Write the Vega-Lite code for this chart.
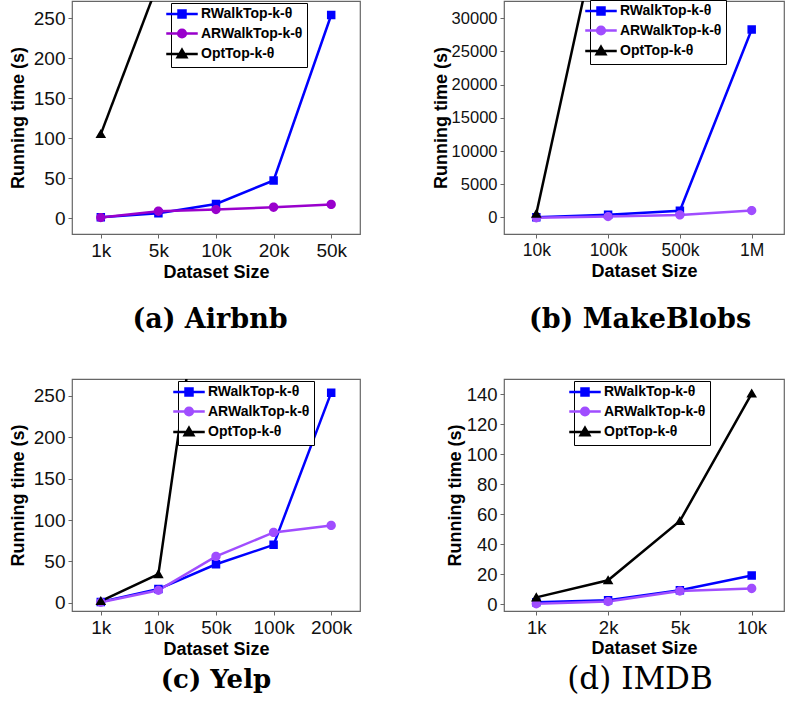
{
  "$schema": "https://vega.github.io/schema/vega-lite/v6.json",
  "background": "white",
  "padding": {"left": 8, "top": -2, "right": 0, "bottom": 0},
  "bounds": "flush",
  "columns": 2,
  "spacing": {"row": 145, "column": 144},
  "config": {
    "view": {"stroke": "#666", "strokeWidth": 1.2},
    "axis": {
      "labelFont": "Liberation Sans", "labelFontSize": 19, "labelColor": "#111",
      "titleFont": "Liberation Sans", "titleFontSize": 18, "titleFontWeight": "bold", "titleColor": "#000",
      "tickSize": 4, "tickColor": "#666", "tickWidth": 1, "domain": false, "grid": false, "labelPadding": 3
    },
    "legend": {
      "orient": "none", "title": null, "strokeColor": "#000", "fillColor": "white", "padding": 4,
      "labelFont": "Liberation Sans", "labelFontSize": 14, "labelFontWeight": "bold", "labelColor": "#000",
      "symbolSize": 49, "symbolStrokeWidth": 2.5, "labelOffset": 12, "rowPadding": 1.5
    },
    "title": {"font": "DejaVu Serif", "fontSize": 27, "fontWeight": "bold", "color": "#000", "orient": "bottom", "anchor": "middle", "offset": 26}
  },
  "resolve": {"scale": {"color": "independent", "shape": "independent"}, "legend": {"color": "independent", "shape": "independent"}},
  "concat": [
        {
          "width": 288, "height": 233,
          "title": {"text": "(a) Airbnb", "dx": -6},
          "data": {"values": [
            {"size": "1k", "method": "RWalkTop-k-θ", "time": 1},
            {"size": "5k", "method": "RWalkTop-k-θ", "time": 6},
            {"size": "10k", "method": "RWalkTop-k-θ", "time": 17.5},
            {"size": "20k", "method": "RWalkTop-k-θ", "time": 47},
            {"size": "50k", "method": "RWalkTop-k-θ", "time": 254},
            {"size": "1k", "method": "ARWalkTop-k-θ", "time": 0.5},
            {"size": "5k", "method": "ARWalkTop-k-θ", "time": 8.5},
            {"size": "10k", "method": "ARWalkTop-k-θ", "time": 10.5},
            {"size": "20k", "method": "ARWalkTop-k-θ", "time": 13.5},
            {"size": "50k", "method": "ARWalkTop-k-θ", "time": 17},
            {"size": "1k", "method": "OptTop-k-θ", "time": 105},
            {"size": "5k", "method": "OptTop-k-θ", "time": 295}
          ]},
          "encoding": {
            "x": {"field": "size", "type": "ordinal", "sort": ["1k", "5k", "10k", "20k", "50k"], "scale": {"type": "point", "padding": 0.5}, "axis": {"labelAngle": 0, "title": "Dataset Size", "titlePadding": 3}},
            "y": {"field": "time", "type": "quantitative", "scale": {"domain": [-20, 271.5], "nice": false, "zero": false}, "axis": {"values": [0, 50, 100, 150, 200, 250], "format": "d", "title": "Running time (s)", "titlePadding": 6}},
            "color": {"field": "method", "type": "nominal", "scale": {"domain": ["RWalkTop-k-θ", "ARWalkTop-k-θ", "OptTop-k-θ"], "range": ["#0000ff", "#9900cc", "#000000"]},
              "legend": {"legendX": 99, "legendY": 2, "encode": {"symbols": {"update": {"stroke": {"signal": "datum.value === 'RWalkTop-k-θ' ? '#0000ff' : datum.value === 'ARWalkTop-k-θ' ? '#9900cc' : '#000000'"}, "strokeWidth": {"value": 2.5}, "opacity": {"value": 1}}}}}}
          },
          "layer": [
            {"mark": {"type": "line", "strokeWidth": 2.5, "clip": true}},
            {"mark": {"type": "point", "filled": true, "size": 72, "opacity": 1, "strokeWidth": 0, "clip": true},
             "encoding": {"shape": {"field": "method", "type": "nominal", "scale": {"domain": ["RWalkTop-k-θ", "ARWalkTop-k-θ", "OptTop-k-θ"], "range": ["M-4.5,0H4.5M-1,-1H1V1H-1Z", "M-4.5,0H4.5M1.1,0A1.1,1.1,0,1,1,-1.1,0A1.1,1.1,0,1,1,1.1,0Z", "M-4.5,0H4.5M0,-1.2L1.25,0.95L-1.25,0.95Z"]},
               "legend": {"legendX": 99, "legendY": 2, "encode": {"symbols": {"update": {"stroke": {"signal": "datum.value === 'RWalkTop-k-θ' ? '#0000ff' : datum.value === 'ARWalkTop-k-θ' ? '#9900cc' : '#000000'"}, "strokeWidth": {"value": 2.5}, "opacity": {"value": 1}}}}}}}}
          ]
        },
        {
          "width": 280, "height": 233,
          "title": {"text": "(b) MakeBlobs", "dx": -4},
          "data": {"values": [
            {"size": "10k", "method": "RWalkTop-k-θ", "time": 10},
            {"size": "100k", "method": "RWalkTop-k-θ", "time": 400},
            {"size": "500k", "method": "RWalkTop-k-θ", "time": 1000},
            {"size": "1M", "method": "RWalkTop-k-θ", "time": 28300},
            {"size": "10k", "method": "ARWalkTop-k-θ", "time": -50},
            {"size": "100k", "method": "ARWalkTop-k-θ", "time": 120},
            {"size": "500k", "method": "ARWalkTop-k-θ", "time": 380},
            {"size": "1M", "method": "ARWalkTop-k-θ", "time": 1030},
            {"size": "10k", "method": "OptTop-k-θ", "time": 550},
            {"size": "100k", "method": "OptTop-k-θ", "time": 50000}
          ]},
          "encoding": {
            "x": {"field": "size", "type": "ordinal", "sort": ["10k", "100k", "500k", "1M"], "scale": {"type": "point", "padding": 0.45}, "axis": {"labelAngle": 0, "labelFontSize": 17.5, "title": "Dataset Size", "titlePadding": 4}},
            "y": {"field": "time", "type": "quantitative", "scale": {"domain": [-2500, 32600], "nice": false, "zero": false}, "axis": {"values": [0, 5000, 10000, 15000, 20000, 25000, 30000], "format": "d", "labelFontSize": 16.5, "title": "Running time (s)", "titlePadding": 1}},
            "color": {"field": "method", "type": "nominal", "scale": {"domain": ["RWalkTop-k-θ", "ARWalkTop-k-θ", "OptTop-k-θ"], "range": ["#0000ff", "#a04dff", "#000000"]},
              "legend": {"legendX": 86, "legendY": -1, "encode": {"symbols": {"update": {"stroke": {"signal": "datum.value === 'RWalkTop-k-θ' ? '#0000ff' : datum.value === 'ARWalkTop-k-θ' ? '#a04dff' : '#000000'"}, "strokeWidth": {"value": 2.5}, "opacity": {"value": 1}}}}}}
          },
          "layer": [
            {"mark": {"type": "line", "strokeWidth": 2.5, "clip": true}},
            {"mark": {"type": "point", "filled": true, "size": 72, "opacity": 1, "strokeWidth": 0, "clip": true},
             "encoding": {"shape": {"field": "method", "type": "nominal", "scale": {"domain": ["RWalkTop-k-θ", "ARWalkTop-k-θ", "OptTop-k-θ"], "range": ["M-4.5,0H4.5M-1,-1H1V1H-1Z", "M-4.5,0H4.5M1.1,0A1.1,1.1,0,1,1,-1.1,0A1.1,1.1,0,1,1,1.1,0Z", "M-4.5,0H4.5M0,-1.2L1.25,0.95L-1.25,0.95Z"]},
               "legend": {"legendX": 86, "legendY": -1, "encode": {"symbols": {"update": {"stroke": {"signal": "datum.value === 'RWalkTop-k-θ' ? '#0000ff' : datum.value === 'ARWalkTop-k-θ' ? '#a04dff' : '#000000'"}, "strokeWidth": {"value": 2.5}, "opacity": {"value": 1}}}}}}}}
          ]
        },
        {
          "width": 288, "height": 232,
          "title": {"text": "(c) Yelp", "fontSize": 26, "offset": 9},
          "data": {"values": [
            {"size": "1k", "method": "RWalkTop-k-θ", "time": 1},
            {"size": "10k", "method": "RWalkTop-k-θ", "time": 16.5},
            {"size": "50k", "method": "RWalkTop-k-θ", "time": 46.5},
            {"size": "100k", "method": "RWalkTop-k-θ", "time": 70},
            {"size": "200k", "method": "RWalkTop-k-θ", "time": 254},
            {"size": "1k", "method": "ARWalkTop-k-θ", "time": 0.5},
            {"size": "10k", "method": "ARWalkTop-k-θ", "time": 15},
            {"size": "50k", "method": "ARWalkTop-k-θ", "time": 56},
            {"size": "100k", "method": "ARWalkTop-k-θ", "time": 85},
            {"size": "200k", "method": "ARWalkTop-k-θ", "time": 93.5},
            {"size": "1k", "method": "OptTop-k-θ", "time": 2},
            {"size": "10k", "method": "OptTop-k-θ", "time": 34.5},
            {"size": "50k", "method": "OptTop-k-θ", "time": 520}
          ]},
          "encoding": {
            "x": {"field": "size", "type": "ordinal", "sort": ["1k", "10k", "50k", "100k", "200k"], "scale": {"type": "point", "padding": 0.5}, "axis": {"labelAngle": 0, "title": "Dataset Size", "titlePadding": 3}},
            "y": {"field": "time", "type": "quantitative", "scale": {"domain": [-10, 270.5], "nice": false, "zero": false}, "axis": {"values": [0, 50, 100, 150, 200, 250], "format": "d", "title": "Running time (s)", "titlePadding": 6}},
            "color": {"field": "method", "type": "nominal", "scale": {"domain": ["RWalkTop-k-θ", "ARWalkTop-k-θ", "OptTop-k-θ"], "range": ["#0000ff", "#a04dff", "#000000"]},
              "legend": {"legendX": 106, "legendY": 2, "encode": {"symbols": {"update": {"stroke": {"signal": "datum.value === 'RWalkTop-k-θ' ? '#0000ff' : datum.value === 'ARWalkTop-k-θ' ? '#a04dff' : '#000000'"}, "strokeWidth": {"value": 2.5}, "opacity": {"value": 1}}}}}}
          },
          "layer": [
            {"mark": {"type": "line", "strokeWidth": 2.5, "clip": true}},
            {"mark": {"type": "point", "filled": true, "size": 72, "opacity": 1, "strokeWidth": 0, "clip": true},
             "encoding": {"shape": {"field": "method", "type": "nominal", "scale": {"domain": ["RWalkTop-k-θ", "ARWalkTop-k-θ", "OptTop-k-θ"], "range": ["M-4.5,0H4.5M-1,-1H1V1H-1Z", "M-4.5,0H4.5M1.1,0A1.1,1.1,0,1,1,-1.1,0A1.1,1.1,0,1,1,1.1,0Z", "M-4.5,0H4.5M0,-1.2L1.25,0.95L-1.25,0.95Z"]},
               "legend": {"legendX": 106, "legendY": 2, "encode": {"symbols": {"update": {"stroke": {"signal": "datum.value === 'RWalkTop-k-θ' ? '#0000ff' : datum.value === 'ARWalkTop-k-θ' ? '#a04dff' : '#000000'"}, "strokeWidth": {"value": 2.5}, "opacity": {"value": 1}}}}}}}}
          ]
        },
        {
          "width": 280, "height": 232,
          "title": {"text": "(d) IMDB", "fontWeight": "normal", "fontSize": 31, "offset": 7, "dx": -4},
          "data": {"values": [
            {"size": "1k", "method": "RWalkTop-k-θ", "time": 1.3},
            {"size": "2k", "method": "RWalkTop-k-θ", "time": 2.7},
            {"size": "5k", "method": "RWalkTop-k-θ", "time": 9.3},
            {"size": "10k", "method": "RWalkTop-k-θ", "time": 19.2},
            {"size": "1k", "method": "ARWalkTop-k-θ", "time": 0.3},
            {"size": "2k", "method": "ARWalkTop-k-θ", "time": 1.8},
            {"size": "5k", "method": "ARWalkTop-k-θ", "time": 8.8},
            {"size": "10k", "method": "ARWalkTop-k-θ", "time": 10.5},
            {"size": "1k", "method": "OptTop-k-θ", "time": 4.6},
            {"size": "2k", "method": "OptTop-k-θ", "time": 16},
            {"size": "5k", "method": "OptTop-k-θ", "time": 55.5},
            {"size": "10k", "method": "OptTop-k-θ", "time": 140.5}
          ]},
          "encoding": {
            "x": {"field": "size", "type": "ordinal", "sort": ["1k", "2k", "5k", "10k"], "scale": {"type": "point", "padding": 0.45}, "axis": {"labelAngle": 0, "labelFontSize": 18.5, "title": "Dataset Size", "titlePadding": 3}},
            "y": {"field": "time", "type": "quantitative", "scale": {"domain": [-4.5, 150.2], "nice": false, "zero": false}, "axis": {"values": [0, 20, 40, 60, 80, 100, 120, 140], "format": "d", "labelFontSize": 18.5, "title": "Running time (s)", "titlePadding": 2}},
            "color": {"field": "method", "type": "nominal", "scale": {"domain": ["RWalkTop-k-θ", "ARWalkTop-k-θ", "OptTop-k-θ"], "range": ["#0000ff", "#a04dff", "#000000"]},
              "legend": {"legendX": 70, "legendY": 2, "encode": {"symbols": {"update": {"stroke": {"signal": "datum.value === 'RWalkTop-k-θ' ? '#0000ff' : datum.value === 'ARWalkTop-k-θ' ? '#a04dff' : '#000000'"}, "strokeWidth": {"value": 2.5}, "opacity": {"value": 1}}}}}}
          },
          "layer": [
            {"mark": {"type": "line", "strokeWidth": 2.5, "clip": true}},
            {"mark": {"type": "point", "filled": true, "size": 72, "opacity": 1, "strokeWidth": 0, "clip": true},
             "encoding": {"shape": {"field": "method", "type": "nominal", "scale": {"domain": ["RWalkTop-k-θ", "ARWalkTop-k-θ", "OptTop-k-θ"], "range": ["M-4.5,0H4.5M-1,-1H1V1H-1Z", "M-4.5,0H4.5M1.1,0A1.1,1.1,0,1,1,-1.1,0A1.1,1.1,0,1,1,1.1,0Z", "M-4.5,0H4.5M0,-1.2L1.25,0.95L-1.25,0.95Z"]},
               "legend": {"legendX": 70, "legendY": 2, "encode": {"symbols": {"update": {"stroke": {"signal": "datum.value === 'RWalkTop-k-θ' ? '#0000ff' : datum.value === 'ARWalkTop-k-θ' ? '#a04dff' : '#000000'"}, "strokeWidth": {"value": 2.5}, "opacity": {"value": 1}}}}}}}}
          ]
        }
  ]
}
